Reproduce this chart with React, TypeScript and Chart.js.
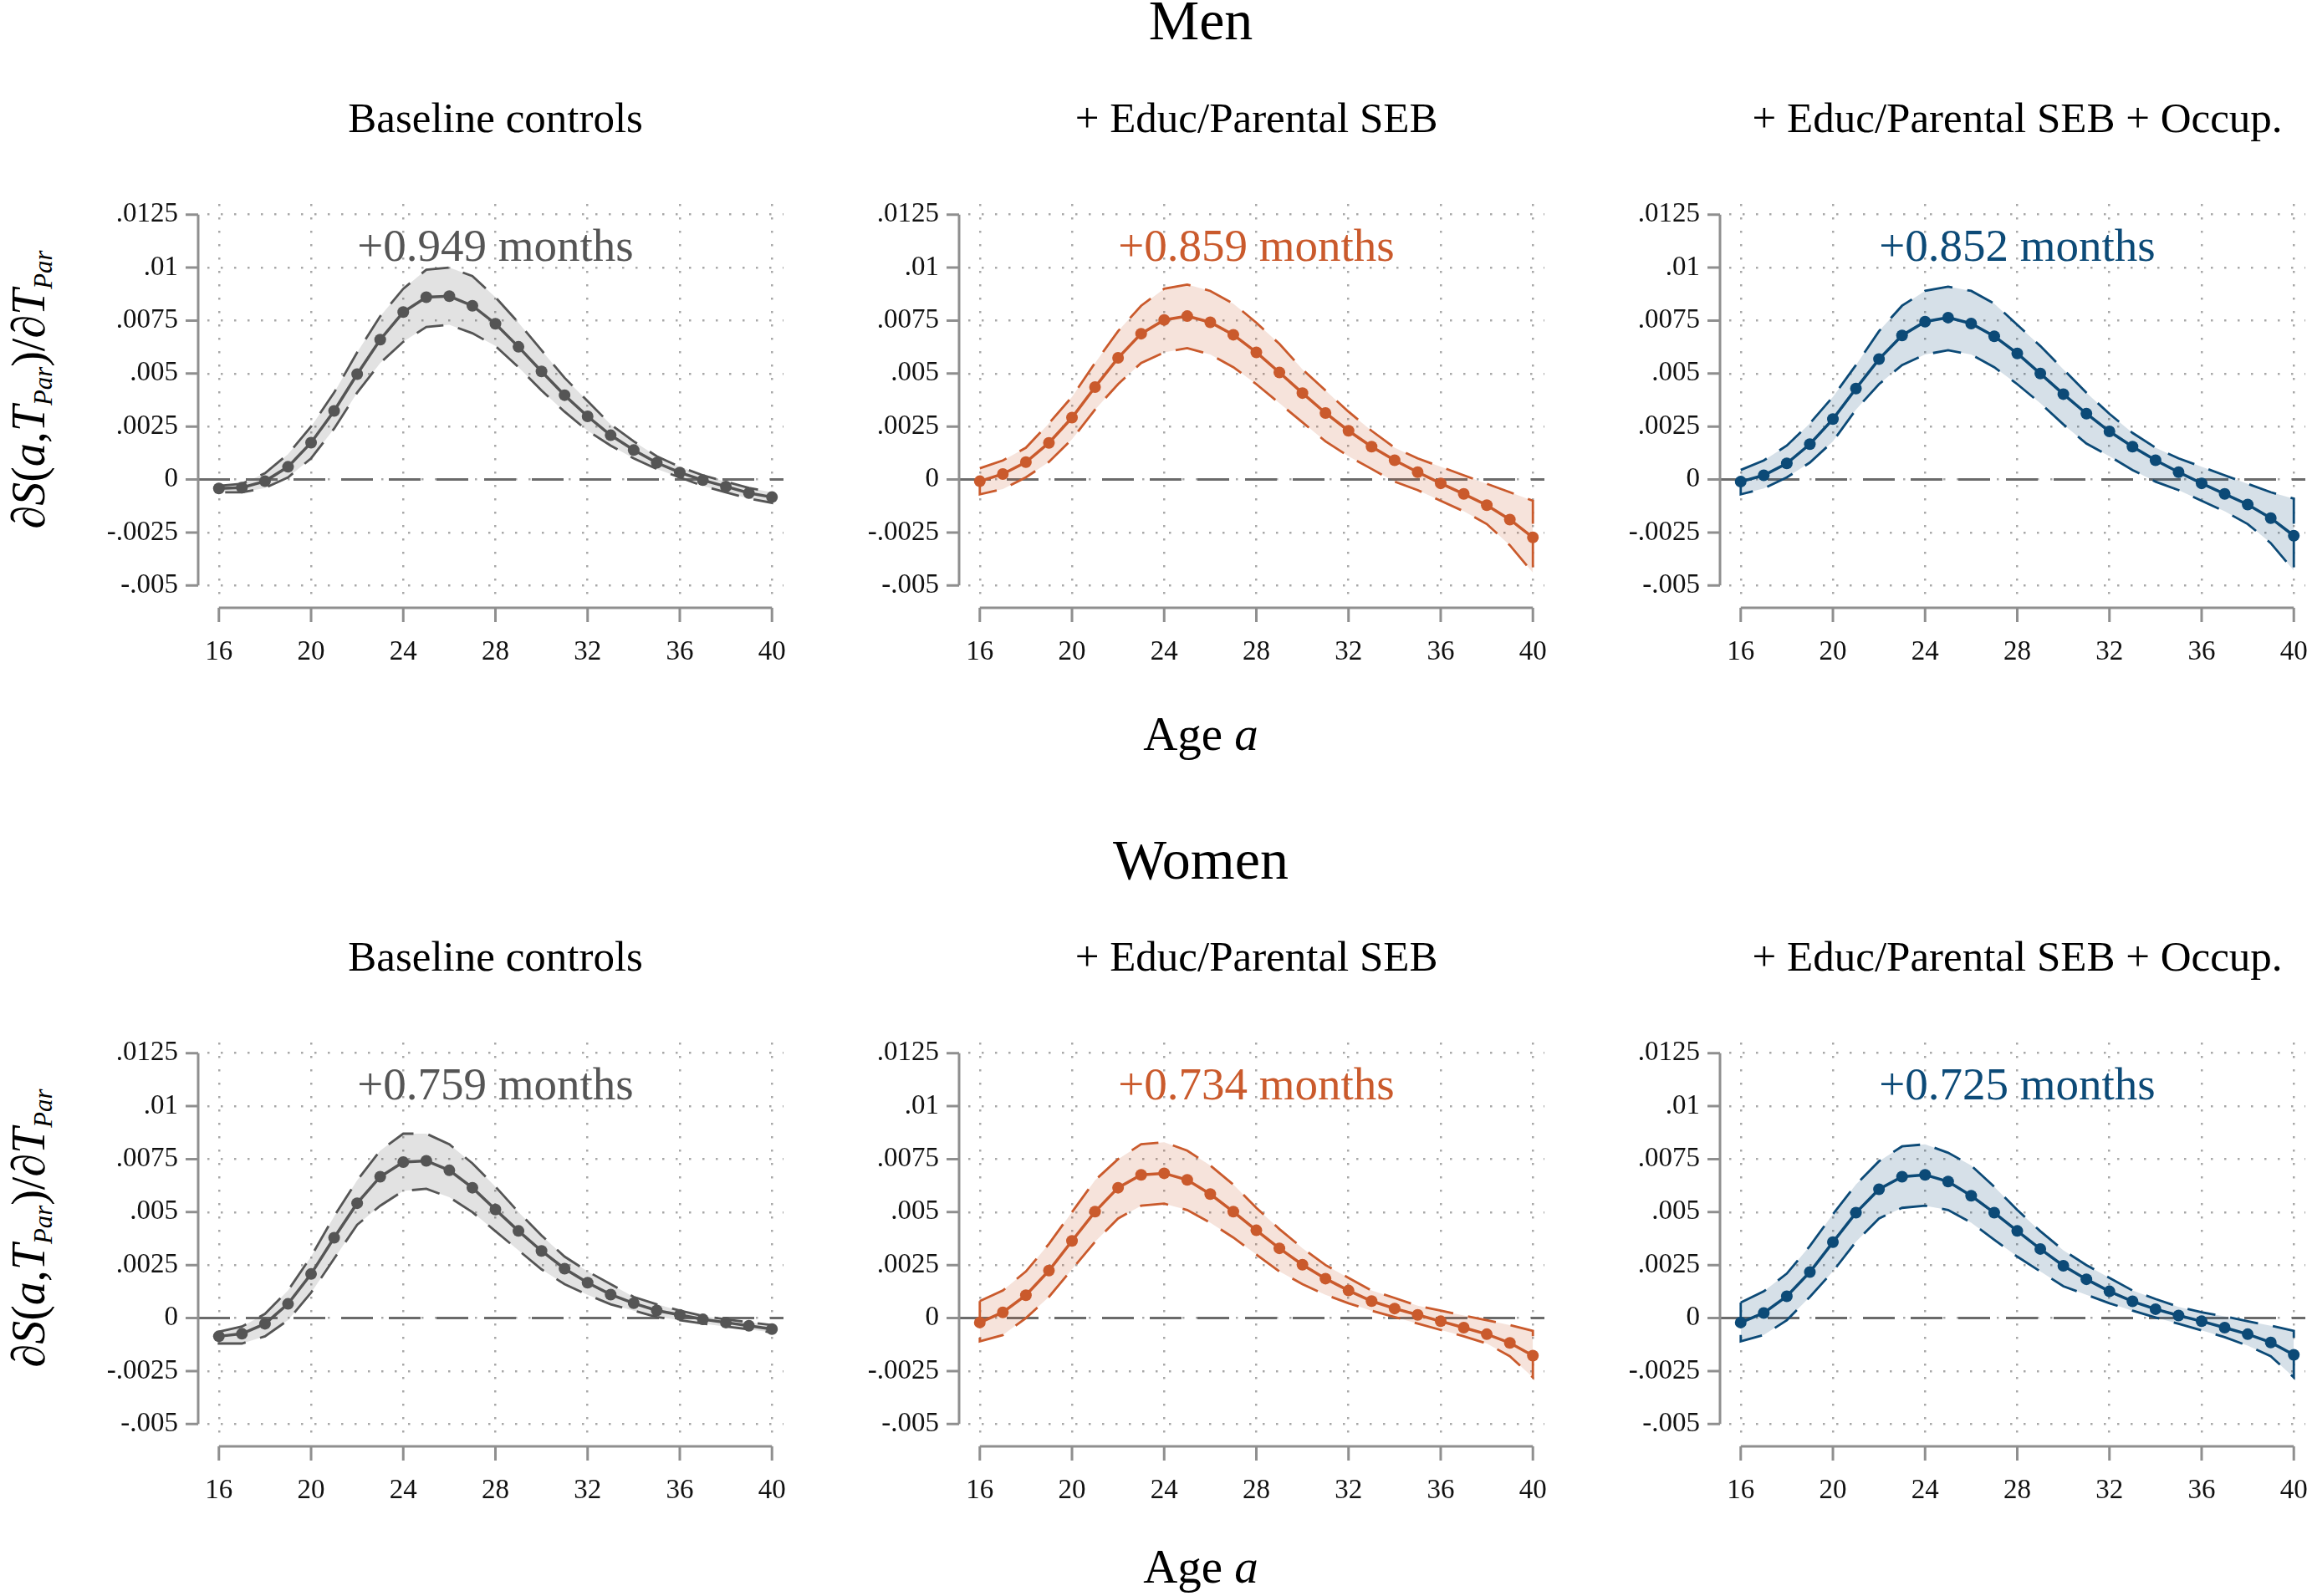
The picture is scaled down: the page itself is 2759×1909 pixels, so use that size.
import React, { useEffect, useRef } from "react";
import { Chart, registerables } from "chart.js";

Chart.register(...registerables);

// ---------------- data ----------------
const ages = [16, 17, 18, 19, 20, 21, 22, 23, 24, 25, 26, 27, 28, 29, 30, 31, 32, 33, 34, 35, 36, 37, 38, 39, 40];
const xTickValues = [16, 20, 24, 28, 32, 36, 40];
const yTickValues = [-0.005, -0.0025, 0, 0.0025, 0.005, 0.0075, 0.01, 0.0125];
const yTickLabels = ["-.005", "-.0025", "0", ".0025", ".005", ".0075", ".01", ".0125"];

const groupTitles = ["Men", "Women"];
const panelTitles = ["Baseline controls", "+ Educ/Parental SEB", "+ Educ/Parental SEB + Occup."];
const menEffects = ["+0.949 months", "+0.859 months", "+0.852 months"];
const womenEffects = ["+0.759 months", "+0.734 months", "+0.725 months"];
const seriesColors = ["#555555", "#ca5a2c", "#0c4a77"];

// Men, baseline controls
const menBase = [-0.00042, -0.00038, -0.00008, 0.0006, 0.00174, 0.00324, 0.00497, 0.0066, 0.0079, 0.0086, 0.00865, 0.0082, 0.00735, 0.00626, 0.0051, 0.00398, 0.00298, 0.00209, 0.00139, 0.00079, 0.00033, -0.00003, -0.00033, -0.00064, -0.00083];
const menBaseHi = [-0.0003, -0.0002, 0.0003, 0.0012, 0.0025, 0.0041, 0.006, 0.0077, 0.009, 0.0099, 0.01, 0.0096, 0.0086, 0.0074, 0.0061, 0.0048, 0.0037, 0.0026, 0.0018, 0.0011, 0.0006, 0.0002, -0.0001, -0.0004, -0.0006];
const menBaseLo = [-0.0006, -0.0006, -0.0004, 0.0001, 0.001, 0.0024, 0.0041, 0.0055, 0.0065, 0.0072, 0.0073, 0.0069, 0.0063, 0.0053, 0.0042, 0.0032, 0.0023, 0.0016, 0.001, 0.0005, 0.0001, -0.0003, -0.0006, -0.0009, -0.0011];

// Men, + Educ/Parental SEB
const menEduc = [-0.00008, 0.00026, 0.00082, 0.00173, 0.00292, 0.00436, 0.00574, 0.00688, 0.00753, 0.00771, 0.00742, 0.00683, 0.006, 0.00505, 0.00408, 0.00314, 0.0023, 0.00155, 0.00091, 0.00035, -0.00018, -0.00068, -0.00121, -0.00189, -0.00273];
const menEducHi = [0.00053, 0.0009, 0.0015, 0.00265, 0.0039, 0.0055, 0.007, 0.0082, 0.009, 0.0092, 0.0089, 0.0083, 0.0074, 0.0064, 0.0052, 0.0042, 0.0032, 0.0023, 0.0015, 0.001, 0.0006, 0.0002, -0.0002, -0.0006, -0.001];
const menEducLo = [-0.0007, -0.00045, 0.0001, 0.00083, 0.0019, 0.0033, 0.0045, 0.0055, 0.006, 0.0062, 0.0059, 0.0053, 0.0045, 0.0036, 0.0027, 0.0018, 0.0011, 0.0005, -0.0001, -0.0005, -0.001, -0.0015, -0.0021, -0.0031, -0.0044];

// Men, + Educ/Parental SEB + Occup.
const menOcc = [-0.0001, 0.0002, 0.00076, 0.00167, 0.00285, 0.00429, 0.00568, 0.0068, 0.00745, 0.00764, 0.00736, 0.00676, 0.00595, 0.005, 0.00403, 0.00311, 0.00227, 0.00155, 0.00091, 0.00035, -0.00018, -0.00068, -0.00118, -0.00182, -0.00265];
const menOccHi = [0.00045, 0.0009, 0.0016, 0.00265, 0.0039, 0.0054, 0.007, 0.0082, 0.0089, 0.0091, 0.0089, 0.0083, 0.0073, 0.0063, 0.0052, 0.0041, 0.0031, 0.0022, 0.0015, 0.001, 0.0006, 0.0002, -0.0002, -0.0006, -0.0009];
const menOccLo = [-0.0007, -0.00042, 0.0001, 0.0008, 0.0018, 0.0033, 0.0045, 0.0054, 0.0059, 0.0061, 0.0059, 0.0053, 0.0045, 0.0036, 0.0026, 0.0017, 0.0011, 0.00045, -0.0001, -0.0005, -0.001, -0.0015, -0.0021, -0.003, -0.0043];

// Women, baseline controls
const womenBase = [-0.00086, -0.00074, -0.00027, 0.00067, 0.00208, 0.00379, 0.00542, 0.00667, 0.00736, 0.00742, 0.00697, 0.00615, 0.00512, 0.00411, 0.00317, 0.00233, 0.00167, 0.00111, 0.0007, 0.00036, 0.00015, -0.00006, -0.00021, -0.00036, -0.00052];
const womenBaseHi = [-0.00064, -0.0004, 0.0002, 0.0013, 0.0029, 0.0048, 0.0065, 0.0079, 0.0087, 0.0087, 0.0082, 0.0073, 0.0062, 0.005, 0.0039, 0.0029, 0.0022, 0.0016, 0.001, 0.00065, 0.00035, 0.0001, -0.00006, -0.0002, -0.00033];
const womenBaseLo = [-0.0012, -0.0012, -0.00086, -0.0001, 0.0012, 0.0028, 0.0044, 0.0053, 0.006, 0.0061, 0.0057, 0.005, 0.0041, 0.0032, 0.0023, 0.0016, 0.0011, 0.00065, 0.00035, 0.00005, -0.0001, -0.00026, -0.0004, -0.00053, -0.00068];

// Women, + Educ/Parental SEB
const womenEduc = [-0.00021, 0.00027, 0.00108, 0.00224, 0.00364, 0.00502, 0.00615, 0.00676, 0.00683, 0.00652, 0.00585, 0.00502, 0.00414, 0.00329, 0.00252, 0.00186, 0.0013, 0.0008, 0.00045, 0.00015, -0.00015, -0.00045, -0.00076, -0.00117, -0.00177];
const womenEducHi = [0.0008, 0.0013, 0.0022, 0.0035, 0.005, 0.0065, 0.0075, 0.0082, 0.0083, 0.0079, 0.0072, 0.0063, 0.0052, 0.0042, 0.0033, 0.0025, 0.0019, 0.0013, 0.00095, 0.00058, 0.00035, 0.00012, -0.0001, -0.00033, -0.0006];
const womenEducLo = [-0.0011, -0.0008, 0.0, 0.001, 0.0023, 0.0036, 0.0047, 0.0053, 0.0054, 0.0051, 0.0045, 0.0038, 0.003, 0.0022, 0.0016, 0.0011, 0.0007, 0.00035, 0.00005, -0.00026, -0.00056, -0.00086, -0.0012, -0.0018, -0.0028];

// Women, + Educ/Parental SEB + Occup.
const womenOcc = [-0.00021, 0.00024, 0.00103, 0.00217, 0.00358, 0.00497, 0.00608, 0.00667, 0.00676, 0.00644, 0.00577, 0.00497, 0.00411, 0.00326, 0.00247, 0.00183, 0.00126, 0.00079, 0.00042, 0.00012, -0.00015, -0.00045, -0.00076, -0.00115, -0.00173];
const womenOccHi = [0.00073, 0.00126, 0.0021, 0.0034, 0.0049, 0.0063, 0.0074, 0.0081, 0.0082, 0.0078, 0.0072, 0.0062, 0.0051, 0.0041, 0.0032, 0.0025, 0.0019, 0.0013, 0.0009, 0.00053, 0.00027, 0.00008, -0.00015, -0.00036, -0.0006];
const womenOccLo = [-0.0011, -0.0008, -0.0001, 0.001, 0.0022, 0.0036, 0.0047, 0.0052, 0.0053, 0.0051, 0.0045, 0.0037, 0.0029, 0.0022, 0.0015, 0.0011, 0.0007, 0.00035, 0.00003, -0.00027, -0.00058, -0.0009, -0.0013, -0.0018, -0.0028];

const panels = [
  { row: 0, col: 0, est: menBase, hi: menBaseHi, lo: menBaseLo, label: menEffects[0] },
  { row: 0, col: 1, est: menEduc, hi: menEducHi, lo: menEducLo, label: menEffects[1] },
  { row: 0, col: 2, est: menOcc, hi: menOccHi, lo: menOccLo, label: menEffects[2] },
  { row: 1, col: 0, est: womenBase, hi: womenBaseHi, lo: womenBaseLo, label: womenEffects[0] },
  { row: 1, col: 1, est: womenEduc, hi: womenEducHi, lo: womenEducLo, label: womenEffects[1] },
  { row: 1, col: 2, est: womenOcc, hi: womenOccHi, lo: womenOccLo, label: womenEffects[2] },
];

// ---------------- layout / style ----------------
const FONT = '"Liberation Serif", "Times New Roman", serif';
const X_MIN = 15.5;
const X_MAX = 40.5;
const Y_MIN = -0.0055;
const Y_MAX = 0.013;
const X16 = [262, 1172, 2082];
const Y_TOP_TICK = [257, 1260];
const PX_PER_AGE = 27.55;
const PX_PER_UNIT = 25370;
const CA_W = 689;
const CA_H = 469;
const LEFT_W = 140;
const TOP_PAD = 20;
const RIGHT_PAD = 20;
const BOTTOM_H = 100;
const ANNOT_X = 28;
const ANNOT_Y = 0.0103;
const ROW_OFFSET = 1003;

function rgba(hex: string, a: number) {
  const n = parseInt(hex.slice(1), 16);
  return `rgba(${(n >> 16) & 255},${(n >> 8) & 255},${n & 255},${a})`;
}

function Panel({ cfg }: { cfg: any }) {
  const ref = useRef<HTMLCanvasElement>(null);
  const caLeft = Math.round(X16[cfg.col] - (16 - X_MIN) * PX_PER_AGE);
  const caTop = Math.round(Y_TOP_TICK[cfg.row] - (Y_MAX - 0.0125) * PX_PER_UNIT);
  const W = CA_W + LEFT_W + RIGHT_PAD;
  const H = CA_H + TOP_PAD + BOTTOM_H;

  useEffect(() => {
    const canvas = ref.current!;
    const color = seriesColors[cfg.col];
    const est: number[] = cfg.est;
    const hi: number[] = cfg.hi;
    const lo: number[] = cfg.lo;
    const n = ages.length;
    const outline = [
      ...ages.map((a, i) => ({ x: a, y: hi[i] })),
      ...ages.map((_, j) => ({ x: ages[n - 1 - j], y: lo[n - 1 - j] })),
      { x: ages[0], y: hi[0] },
    ];

    const decor = {
      id: "decor" + cfg.row + cfg.col,
      beforeDatasetsDraw(chart: any) {
        const { ctx, chartArea, scales } = chart;
        const y0 = scales.y.getPixelForValue(0);
        ctx.save();
        ctx.strokeStyle = "#6a6a6a";
        ctx.lineWidth = 3;
        ctx.setLineDash([38, 19]);
        ctx.beginPath();
        ctx.moveTo(chartArea.left - 11, y0);
        ctx.lineTo(chartArea.right, y0);
        ctx.stroke();
        ctx.restore();
      },
      afterDraw(chart: any) {
        const { ctx, chartArea, scales } = chart;
        const xs = scales.x;
        const ys = scales.y;
        ctx.save();
        ctx.strokeStyle = "#8f8f8f";
        ctx.lineWidth = 3;
        ctx.setLineDash([]);
        // y axis
        const ax = chartArea.left - 11;
        ctx.beginPath();
        ctx.moveTo(ax, ys.getPixelForValue(yTickValues[yTickValues.length - 1]));
        ctx.lineTo(ax, ys.getPixelForValue(yTickValues[0]));
        for (const v of yTickValues) {
          const p = ys.getPixelForValue(v);
          ctx.moveTo(ax, p);
          ctx.lineTo(ax - 15, p);
        }
        ctx.stroke();
        // x axis
        const ay = chartArea.bottom + 14;
        ctx.beginPath();
        ctx.moveTo(xs.getPixelForValue(xTickValues[0]), ay);
        ctx.lineTo(xs.getPixelForValue(xTickValues[xTickValues.length - 1]), ay);
        for (const v of xTickValues) {
          const p = xs.getPixelForValue(v);
          ctx.moveTo(p, ay);
          ctx.lineTo(p, ay + 17);
        }
        ctx.stroke();
        // annotation
        ctx.fillStyle = color;
        ctx.font = `55px ${FONT}`;
        ctx.textAlign = "center";
        ctx.textBaseline = "alphabetic";
        ctx.fillText(cfg.label, xs.getPixelForValue(ANNOT_X), ys.getPixelForValue(ANNOT_Y));
        ctx.restore();
      },
    };

    const fitFix = (w?: number, h?: number) => (s: any) => {
      if (w !== undefined) s.width = w;
      if (h !== undefined) s.height = h;
      s.paddingLeft = 0;
      s.paddingRight = 0;
      s.paddingTop = 0;
      s.paddingBottom = 0;
    };

    const chart = new Chart(canvas, {
      type: "line",
      data: {
        datasets: [
          {
            data: ages.map((a, i) => ({ x: a, y: est[i] })),
            borderColor: color,
            backgroundColor: color,
            pointBackgroundColor: color,
            pointBorderColor: color,
            borderWidth: 3.5,
            pointRadius: 7,
            pointBorderWidth: 0,
            tension: 0,
            fill: false,
          },
          {
            data: outline,
            borderColor: color,
            borderWidth: 2.8,
            borderDash: [34, 18],
            pointRadius: 0,
            tension: 0,
            fill: false,
          },
          {
            data: ages.map((a, i) => ({ x: a, y: lo[i] })),
            borderColor: "rgba(0,0,0,0)",
            borderWidth: 1,
            pointRadius: 0,
            tension: 0,
            fill: false,
          },
          {
            data: ages.map((a, i) => ({ x: a, y: hi[i] })),
            borderColor: "rgba(0,0,0,0)",
            backgroundColor: rgba(color, 0.17),
            borderWidth: 1,
            pointRadius: 0,
            tension: 0,
            fill: 2,
          },
        ],
      } as any,
      options: {
        animation: false,
        responsive: false,
        maintainAspectRatio: false,
        events: [],
        layout: { padding: { left: 0, top: TOP_PAD, right: RIGHT_PAD, bottom: 0 } },
        plugins: {
          legend: { display: false },
          tooltip: { enabled: false },
          title: { display: false },
        },
        scales: {
          x: {
            type: "linear",
            min: X_MIN,
            max: X_MAX,
            afterBuildTicks: (s: any) => {
              s.ticks = xTickValues.map((v) => ({ value: v }));
            },
            afterFit: fitFix(undefined, BOTTOM_H),
            grid: { color: "#a8a8a8", lineWidth: 2.5, drawTicks: false },
            border: { display: false, dash: [2.5, 13.5] },
            ticks: {
              font: { family: FONT, size: 33 },
              color: "#111",
              padding: 48,
              maxRotation: 0,
              autoSkip: false,
              callback: (v: any) => String(v),
            },
          },
          y: {
            type: "linear",
            min: Y_MIN,
            max: Y_MAX,
            afterBuildTicks: (s: any) => {
              s.ticks = yTickValues.map((v) => ({ value: v }));
            },
            afterFit: fitFix(LEFT_W, undefined),
            grid: { color: "#a8a8a8", lineWidth: 2.5, drawTicks: false },
            border: { display: false, dash: [2.5, 13.5] },
            ticks: {
              font: { family: FONT, size: 33 },
              color: "#111",
              padding: 35,
              autoSkip: false,
              callback: (v: any) => {
                const k = yTickValues.findIndex((t) => Math.abs(t - Number(v)) < 1e-9);
                return k >= 0 ? yTickLabels[k] : "";
              },
            },
          },
        },
      } as any,
      plugins: [decor],
    });
    return () => chart.destroy();
  }, []);

  return (
    <canvas
      ref={ref}
      width={W}
      height={H}
      style={{ position: "absolute", left: caLeft - LEFT_W, top: caTop - TOP_PAD, width: W, height: H }}
    />
  );
}

function Label({ cx, baseline, size, children, color = "#000" }: any) {
  return (
    <div
      style={{
        position: "absolute",
        left: cx - 700,
        width: 1400,
        top: baseline - 0.8375 * size,
        fontSize: size,
        lineHeight: size + "px",
        textAlign: "center",
        whiteSpace: "nowrap",
        color,
      }}
    >
      {children}
    </div>
  );
}

function YTitle({ cx, cy }: { cx: number; cy: number }) {
  const sub = { fontSize: "0.55em", verticalAlign: "-0.3em", fontStyle: "italic" } as any;
  return (
    <div
      style={{
        position: "absolute",
        left: cx - 300,
        top: cy - 40,
        width: 600,
        height: 80,
        lineHeight: "80px",
        fontSize: 56,
        textAlign: "center",
        whiteSpace: "nowrap",
        transform: "rotate(-90deg)",
        transformOrigin: "50% 50%",
        color: "#000",
      }}
    >
      ∂<i>S</i>(<i>a</i>,<i>T</i>
      <span style={sub}>Par</span>)/∂<i>T</i>
      <span style={sub}>Par</span>
    </div>
  );
}

export default function App() {
  const centers = X16.map((x) => x + 12 * PX_PER_AGE);
  return (
    <div
      style={{
        position: "fixed",
        left: 0,
        top: 0,
        width: 2759,
        height: 1909,
        overflow: "hidden",
        background: "#fff",
        fontFamily: FONT,
      }}
    >
      {[0, 1].map((r) => (
        <React.Fragment key={r}>
          <Label cx={1436} baseline={47 + r * ROW_OFFSET + (r ? 1 : 0)} size={68}>
            {groupTitles[r]}
          </Label>
          {panelTitles.map((t, c) => (
            <Label key={c} cx={centers[c]} baseline={159 + r * ROW_OFFSET} size={51}>
              {t}
            </Label>
          ))}
          <Label cx={1436} baseline={897 + r * 996} size={57}>
            Age <i>a</i>
          </Label>
          <YTitle cx={34} cy={466 + r * ROW_OFFSET} />
        </React.Fragment>
      ))}
      {panels.map((p, i) => (
        <Panel key={i} cfg={p} />
      ))}
    </div>
  );
}
